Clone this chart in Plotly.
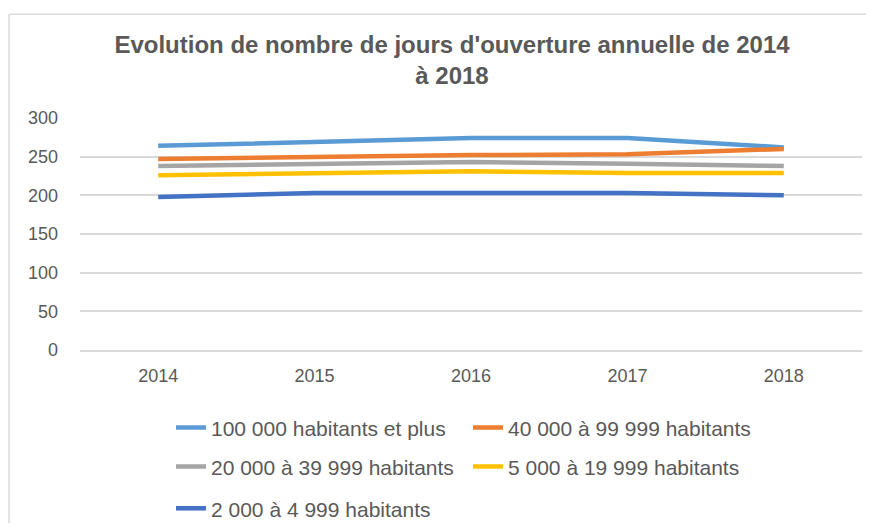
import plotly.graph_objects as go

years = ["2014", "2015", "2016", "2017", "2018"]
series_names = [
    "100 000 habitants et plus",
    "40 000 à 99 999 habitants",
    "20 000 à 39 999 habitants",
    "5 000 à 19 999 habitants",
    "2 000 à 4 999 habitants",
]
v_100k = [264, 269, 274, 274, 262]
v_40k = [247, 250, 252, 253, 260]
v_20k = [238, 240, 243, 241, 238]
v_5k = [226, 229, 231, 229, 229]
v_2k = [198, 203, 203, 203, 200]
series_values = [v_100k, v_40k, v_20k, v_5k, v_2k]
colors = ["#5B9BD5", "#ED7D31", "#A5A5A5", "#FFC000", "#4472C4"]
legend_ids = ["legend", "legend", "legend2", "legend2", "legend3"]

# page body adds an 8px margin on each side; work in screen coordinates and convert
OFF = 8
W, H = 874 - 2 * OFF, 531 - 2 * OFF
L = 80 - OFF
R = W - (862 - OFF)
T = 117.5 - OFF
B = H - (350 - OFF)
pw = W - L - R
ph = H - T - B

def px_x(x):
    return (x - OFF - L) / pw

def px_y(y):
    return (H - B - (y - OFF)) / ph

fig = go.Figure()
for name, vals, col, lg in zip(series_names, series_values, colors, legend_ids):
    fig.add_trace(go.Scatter(
        x=years, y=vals, name=name, mode="lines",
        line=dict(color=col, width=4.5),
        legend=lg,
    ))

leg_common = dict(
    orientation="h", xanchor="left", yanchor="middle",
    font=dict(size=21, color="#595959", family="'Liberation Sans', Arial, sans-serif"),
    entrywidth=252, entrywidthmode="pixels",
    bgcolor="rgba(0,0,0,0)", borderwidth=0,
    itemclick=False,
)

frame = dict(color="#D9D9D9", width=1.5)

fig.update_layout(
    width=W, height=H,
    margin=dict(l=L, r=R, t=T, b=B, autoexpand=False),
    paper_bgcolor="white", plot_bgcolor="white",
    title=dict(
        text="<b>Evolution de nombre de jours d'ouverture annuelle de 2014<br>à 2018</b>",
        x=(452 - OFF) / W, xanchor="center", y=1 - 45 / H, yanchor="middle",
        font=dict(size=24, color="#595959", family="'Liberation Sans', Arial, sans-serif"),
    ),
    xaxis=dict(
        type="category", range=[-0.5, 4.5],
        showgrid=False, showline=True, linecolor="#D9D9D9", linewidth=1.5,
        ticks="", tickfont=dict(size=18, color="#595959", family="'Liberation Sans', Arial, sans-serif"),
        ticklabelstandoff=9,
    ),
    yaxis=dict(
        range=[0, 300], dtick=50, showgrid=True, gridcolor="#D9D9D9", gridwidth=1.5,
        zeroline=False, showline=False, ticks="",
        tickfont=dict(size=18, color="#595959", family="'Liberation Sans', Arial, sans-serif"),
        ticklabelstandoff=21,
    ),
    legend=dict(x=px_x(171), y=px_y(428), **leg_common),
    legend2=dict(x=px_x(171), y=px_y(467), **leg_common),
    legend3=dict(x=px_x(171), y=px_y(509), **leg_common),
    shapes=[
        dict(type="line", xref="paper", yref="paper",
             x0=px_x(9), x1=px_x(874), y0=px_y(13.5), y1=px_y(13.5),
             line=frame, layer="below"),
        dict(type="line", xref="paper", yref="paper",
             x0=px_x(9), x1=px_x(9), y0=px_y(13.5), y1=px_y(531),
             line=frame, layer="below"),
    ],
)

fig.write_html("out.html")
